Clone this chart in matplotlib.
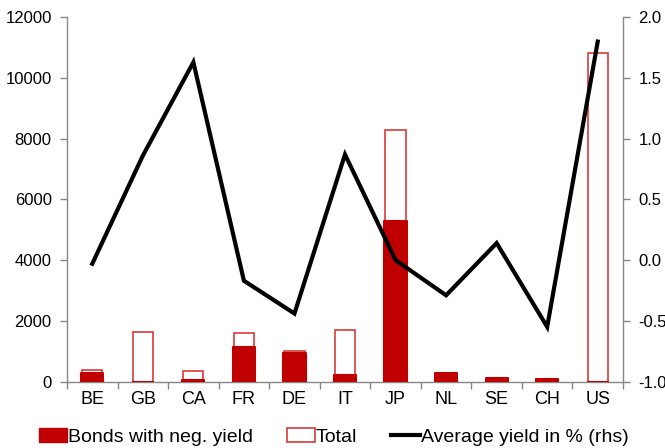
import matplotlib
matplotlib.use("Agg")
import matplotlib.pyplot as plt
from matplotlib.ticker import FormatStrFormatter, FixedLocator
from matplotlib.lines import Line2D
from matplotlib.patches import Patch
import numpy as np

plt.rcParams['font.family'] = ['Liberation Sans', 'DejaVu Sans']

countries = ["BE", "GB", "CA", "FR", "DE", "IT", "JP", "NL", "SE", "CH", "US"]
neg_yield = [270, 0, 40, 1140, 930, 230, 5300, 270, 110, 90, 0]
total = [370, 1620, 350, 1600, 1010, 1690, 8300, 0, 0, 0, 10840]
avg_yield = [-0.03, 0.86, 1.63, -0.17, -0.44, 0.87, 0.0, -0.29, 0.14, -0.55, 1.80]

left_ticks = [0, 2000, 4000, 6000, 8000, 10000, 12000]
right_ticks = [-1.0, -0.5, 0.0, 0.5, 1.0, 1.5, 2.0]

RED = "#c00000"
EDGE = "#d93a3a"
GRAY = "#868686"
FS = 12

fig = plt.figure(figsize=(6.65, 4.48), dpi=100)
ax = fig.add_axes([67/665, 1-381.5/448, (623-67)/665, (381.5-17.3)/448])
x = np.arange(len(countries))

ax.bar(x, total, width=0.4, facecolor="white", edgecolor=EDGE, linewidth=1.2, zorder=2)
ax.bar(x, neg_yield, width=0.44, facecolor=RED, edgecolor=RED, linewidth=1.5,
       joinstyle="round", zorder=3)

ax.set_xlim(-0.5, len(countries) - 0.5)
ax.set_ylim(0, 12000)
ax.set_yticks(left_ticks)
ax.set_xticks(x)
ax.set_xticklabels(countries, fontsize=13)
ax.xaxis.set_minor_locator(FixedLocator(np.arange(-0.5, len(countries), 1.0)))
ax.tick_params(axis="x", which="major", length=0, pad=7)
ax.tick_params(axis="x", which="minor", length=5, color=GRAY, width=1, direction="out")
ax.tick_params(axis="y", length=5, color=GRAY, width=1, direction="out", labelsize=FS, pad=6)
for s in ["top", "right"]:
    ax.spines[s].set_visible(False)
for s in ["left", "bottom"]:
    ax.spines[s].set_color(GRAY)
    ax.spines[s].set_linewidth(1)

ax2 = ax.twinx()
ax2.plot(x, avg_yield, color="black", linewidth=3.0, solid_joinstyle="miter", zorder=5)
ax2.set_ylim(-1.0, 2.0)
ax2.set_yticks(right_ticks)
ax2.yaxis.set_major_formatter(FormatStrFormatter("%.1f"))
ax2.tick_params(axis="y", length=5, color=GRAY, width=1, direction="out", labelsize=FS, pad=6)
for s in ["top", "left", "bottom"]:
    ax2.spines[s].set_visible(False)
ax2.spines["right"].set_color(GRAY)
ax2.spines["right"].set_linewidth(1)

handles = [
    Patch(facecolor=RED, edgecolor=RED),
    Patch(facecolor="white", edgecolor=EDGE, linewidth=1.2),
    Line2D([0], [0], color="black", linewidth=3.0),
]
labels = ["Bonds with neg. yield", "Total", "Average yield in % (rhs)"]
fig.legend(handles, labels, loc="center", bbox_to_anchor=(0.5015, 0.025), ncol=3,
           frameon=False, fontsize=14, handlelength=1.45, handleheight=0.75,
           handletextpad=0.05, columnspacing=1.75, borderpad=0)

fig.savefig("out.png", dpi=100)
